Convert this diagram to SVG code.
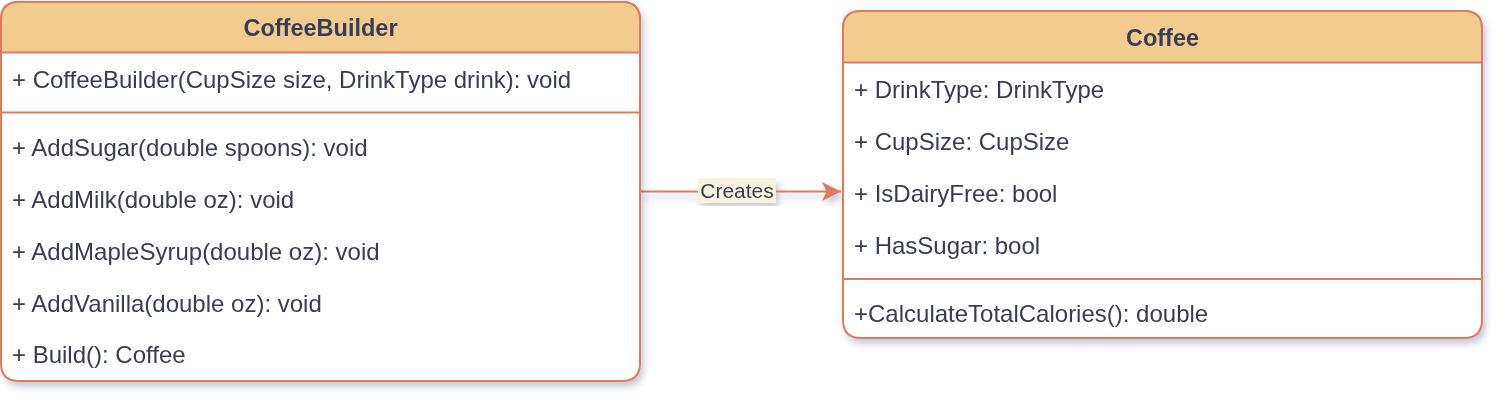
<svg xmlns="http://www.w3.org/2000/svg" width="1506" height="410" viewBox="0 0 1506 410">
<defs>
<filter id="sh" x="-5%" y="-5%" width="110%" height="115%">
<feGaussianBlur in="SourceAlpha" stdDeviation="3"/>
<feOffset dx="3" dy="5" result="b"/>
<feFlood flood-color="#2a3370" flood-opacity="0.25"/>
<feComposite in2="b" operator="in"/>
<feMerge><feMergeNode/><feMergeNode in="SourceGraphic"/></feMerge>
</filter>
<marker id="arr" markerWidth="22" markerHeight="22" viewBox="0 0 22 22" refX="19" refY="11" orient="auto" markerUnits="userSpaceOnUse">
<path d="M0,1.5 L19,11 L0,20.5 L4.5,11 Z" fill="#E07A5F"/>
</marker>
</defs>
<style>
.box{fill:#ffffff;stroke:#E07A5F;stroke-width:2}
.hdr{fill:#F2CC8F;stroke:#E07A5F;stroke-width:2}
.ln{stroke:#E07A5F;stroke-width:2;fill:none}
.t{font-family:"Liberation Sans",Arial,sans-serif;font-size:24px;fill:#393C56}
.tb{font-family:"Liberation Sans",Arial,sans-serif;font-size:23.5px;font-weight:bold;fill:#393C56;text-anchor:middle}
.lbl{font-family:"Liberation Sans",Arial,sans-serif;font-size:21px;fill:#393C56;text-anchor:middle}
</style>
<g id="connectors" filter="url(#sh)">
<path class="ln" d="M640,191.5 L841,191.5" marker-end="url(#arr)"/>
<rect x="698" y="178" width="78" height="25" fill="#F7F3DD"/>
<text class="lbl" x="737" y="197.5">Creates</text>
</g>
<g id="CoffeeBuilder" filter="url(#sh)">
<path class="box" d="M19,2 H622 Q640,2 640,20 V363 Q640,381 622,381 H19 Q1,381 1,363 V20 Q1,2 19,2 Z"/>
<path class="hdr" d="M19,2 H622 Q640,2 640,20 V52.5 H1 V20 Q1,2 19,2 Z"/>
<line class="ln" x1="1" y1="112.5" x2="640" y2="112.5"/>
<text class="tb" x="320.5" y="36">CoffeeBuilder</text>
<text class="t" x="12" y="88">+ CoffeeBuilder(CupSize size, DrinkType drink): void</text>
<text class="t" x="12" y="156">+ AddSugar(double spoons): void</text>
<text class="t" x="12" y="208">+ AddMilk(double oz): void</text>
<text class="t" x="12" y="260">+ AddMapleSyrup(double oz): void</text>
<text class="t" x="12" y="312">+ AddVanilla(double oz): void</text>
<text class="t" x="12" y="363">+ Build(): Coffee</text>
</g>
<g id="Coffee" filter="url(#sh)">
<path class="box" d="M861,11 H1464 Q1482,11 1482,29 V320 Q1482,338 1464,338 H861 Q843,338 843,320 V29 Q843,11 861,11 Z"/>
<path class="hdr" d="M861,11 H1464 Q1482,11 1482,29 V62.5 H843 V29 Q843,11 861,11 Z"/>
<line class="ln" x1="843" y1="279" x2="1482" y2="279"/>
<text class="tb" x="1162.5" y="46">Coffee</text>
<text class="t" x="854" y="98">+ DrinkType: DrinkType</text>
<text class="t" x="854" y="150">+ CupSize: CupSize</text>
<text class="t" x="854" y="202">+ IsDairyFree: bool</text>
<text class="t" x="854" y="254">+ HasSugar: bool</text>
<text class="t" x="854" y="322">+CalculateTotalCalories(): double</text>
</g>
</svg>
